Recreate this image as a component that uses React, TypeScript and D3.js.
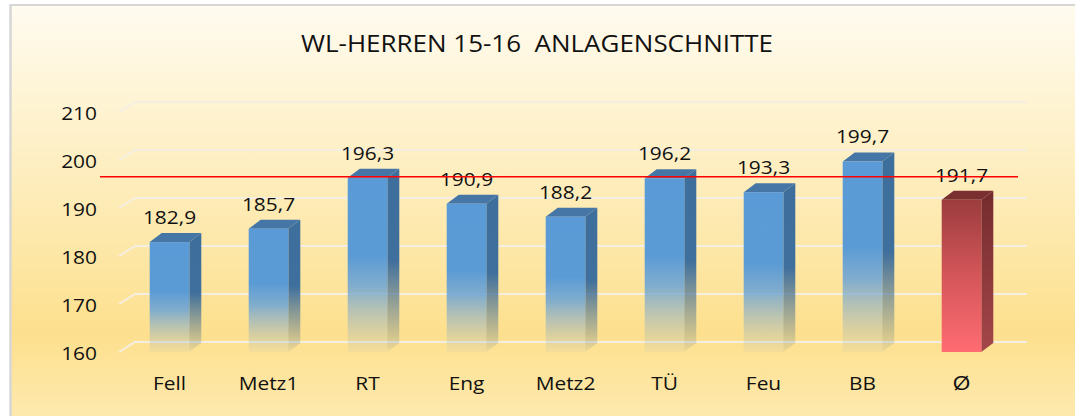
import React from "react";
import * as d3 from "d3";

// Werte aus dem Diagramm
const categories = ["Fell", "Metz1", "RT", "Eng", "Metz2", "TÜ", "Feu", "BB", "Ø"];
const values = [182.9, 185.7, 196.3, 190.9, 188.2, 196.2, 193.3, 199.7, 191.7];
const yTicks = [160, 170, 180, 190, 200, 210];
const referenceValue = 196.5;
const title = "WL-HERREN 15-16  ANLAGENSCHNITTE";

const W = 1075;
const H = 418;
const FONT = "'Open Sans', sans-serif";
const SX = 1.16; // Schrift etwas breiter gezogen

// 3D-Versatz
const gridDx = 16;
const gridDy = -10;
const barDx = 12;
const barDy = -9;

const fmt = (v: number) => v.toFixed(1).replace(".", ",");

function Label({ x, y, size, anchor = "middle", children }: any) {
    return (
        <text
            transform={`translate(${x},${y}) scale(${SX},1)`}
            textAnchor={anchor}
            fontFamily={FONT}
            fontSize={size}
            fill="#111"
        >
            {children}
        </text>
    );
}

export default function App() {
    const y = d3.scaleLinear().domain([160, 210]).range([352, 112]);
    const x = d3
        .scaleBand<string>()
        .domain(categories)
        .range([120, 1011])
        .paddingInner(0.6)
        .paddingOuter(0.3);

    const base = y(160);
    const gridRight = x.range()[1] + gridDx;

    return (
        <svg
            width={W}
            height={H}
            style={{ position: "absolute", left: 0, top: 0, display: "block" }}
        >
            <defs>
                <linearGradient id="bg" x1="0" y1="0" x2="0" y2="1">
                    <stop offset="0" stopColor="#FFFBF0" />
                    <stop offset="0.35" stopColor="#FEF0C6" />
                    <stop offset="0.8" stopColor="#FDE08E" />
                    <stop offset="1" stopColor="#FEE9AE" />
                </linearGradient>
                <linearGradient id="blueFront" x1="0" y1="0" x2="0" y2="1">
                    <stop offset="0" stopColor="#5A9AD6" />
                    <stop offset="0.45" stopColor="#5B9BD5" />
                    <stop offset="0.62" stopColor="#6AA3D6" stopOpacity="0.85" />
                    <stop offset="1" stopColor="#A8B6B8" stopOpacity="0.1" />
                </linearGradient>
                <linearGradient id="blueSide" x1="0" y1="0" x2="0" y2="1">
                    <stop offset="0" stopColor="#3E6E9C" />
                    <stop offset="0.5" stopColor="#3F6F9D" />
                    <stop offset="1" stopColor="#4A6E8A" stopOpacity="0.08" />
                </linearGradient>
                <linearGradient id="redFront" x1="0" y1="0" x2="0" y2="1">
                    <stop offset="0" stopColor="#9C3C3E" />
                    <stop offset="0.5" stopColor="#D4565A" />
                    <stop offset="1" stopColor="#FF6C72" />
                </linearGradient>
                <linearGradient id="redSide" x1="0" y1="0" x2="0" y2="1">
                    <stop offset="0" stopColor="#742B2D" />
                    <stop offset="1" stopColor="#A4464A" />
                </linearGradient>
            </defs>

            {/* Hintergrund */}
            <rect x={10} y={4} width={W - 10} height={412} fill="url(#bg)" />
            <line x1={10} y1={5} x2={W} y2={5} stroke="#D6D6D6" strokeWidth={2} />
            <line x1={10.5} y1={4} x2={10.5} y2={416} stroke="#D6D6D6" strokeWidth={2.5} />

            {/* Titel */}
            <text
                x={537}
                y={52}
                textAnchor="middle"
                fontFamily={FONT}
                fontSize={24}
                fill="#111"
                textLength={472}
                lengthAdjust="spacingAndGlyphs"
                style={{ whiteSpace: "pre" }}
            >
                {title}
            </text>

            {/* Gitterlinien (Rückwand) */}
            {yTicks.map((t) => (
                <g key={t}>
                    <polyline
                        points={`${x.range()[0] - 1},${y(t)} ${x.range()[0] - 1 + gridDx},${y(t) + gridDy} ${gridRight},${y(t) + gridDy}`}
                        fill="none"
                        stroke="#F4EFE2"
                        strokeWidth={2}
                    />
                    <Label x={97} y={y(t) + 8} size={18} anchor="end">
                        {t}
                    </Label>
                </g>
            ))}

            {/* Säulen */}
            {categories.map((c, i) => {
                const v = values[i];
                const x0 = x(c)!;
                const x1 = x0 + x.bandwidth();
                const yt = y(v);
                const isAvg = i === categories.length - 1;
                return (
                    <g key={c}>
                        <polygon
                            points={`${x1},${yt} ${x1 + barDx},${yt + barDy} ${x1 + barDx},${base + barDy} ${x1},${base}`}
                            fill={isAvg ? "url(#redSide)" : "url(#blueSide)"}
                        />
                        <polygon
                            points={`${x0},${yt} ${x0 + barDx},${yt + barDy} ${x1 + barDx},${yt + barDy} ${x1},${yt}`}
                            fill={isAvg ? "#7A2F31" : "#4676A6"}
                        />
                        <rect
                            x={x0}
                            y={yt}
                            width={x.bandwidth()}
                            height={base - yt}
                            fill={isAvg ? "url(#redFront)" : "url(#blueFront)"}
                        />
                        <Label x={x0 + x.bandwidth() / 2} y={yt - 18} size={18}>
                            {fmt(v)}
                        </Label>
                        <Label x={x0 + x.bandwidth() / 2} y={390} size={isAvg ? 20 : 18}>
                            {c}
                        </Label>
                    </g>
                );
            })}

            {/* Referenzlinie */}
            <line
                x1={100}
                y1={y(referenceValue)}
                x2={1018}
                y2={y(referenceValue)}
                stroke="#FF0000"
                strokeWidth={1.5}
            />
        </svg>
    );
}
